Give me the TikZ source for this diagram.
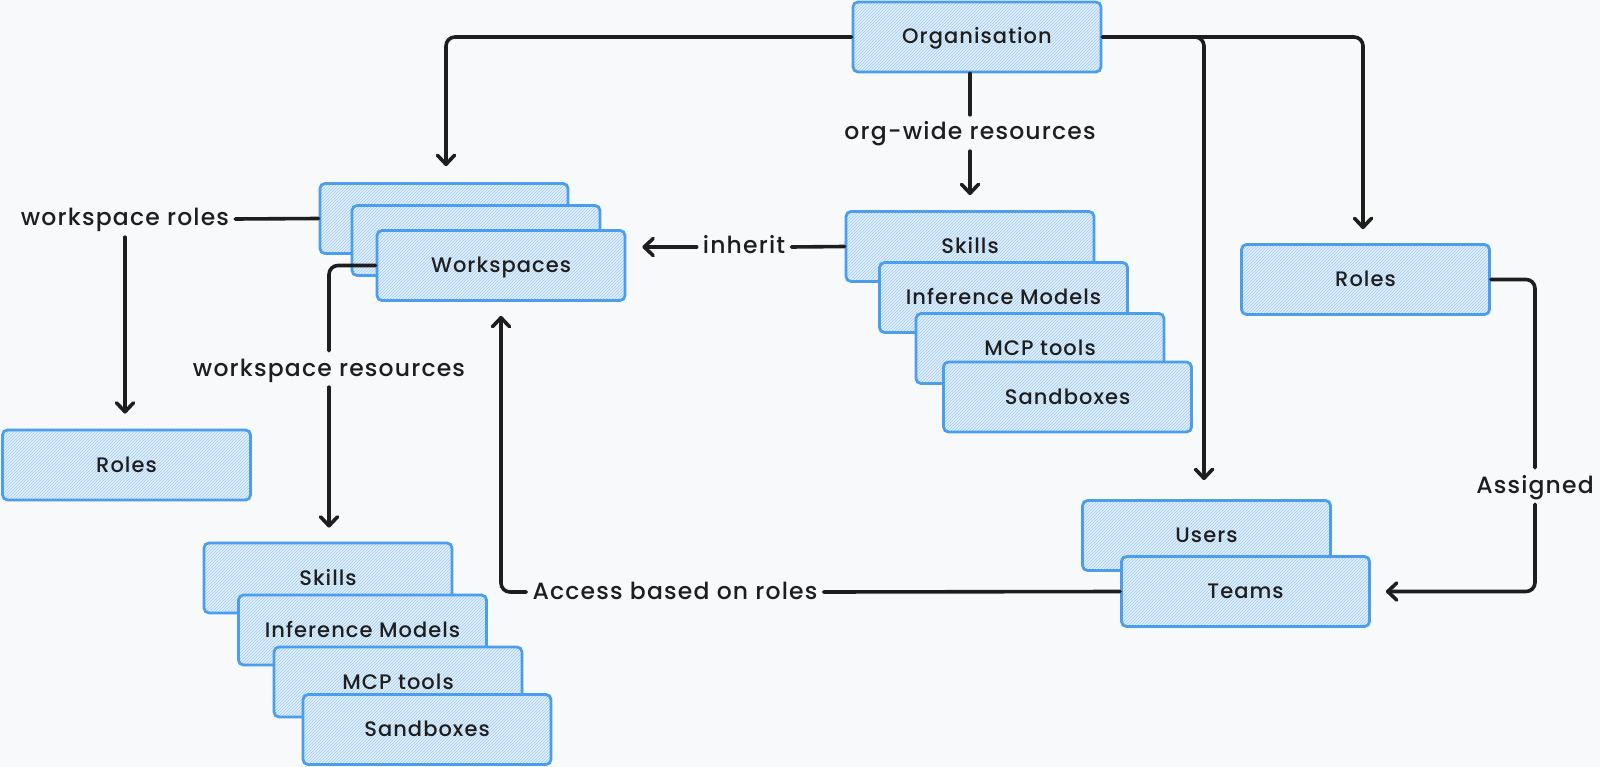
\documentclass[tikz,border=0pt]{standalone}
\usepackage{fontspec}
\setmainfont{Poppins}[UprightFont={* Medium}, LetterSpace=5]
\usetikzlibrary{arrows.meta,patterns,calc}
\definecolor{bg}{HTML}{F8F9FA}
\definecolor{boxblue}{HTML}{4A9EED}
\definecolor{fillblue}{HTML}{E4F0FB}
\definecolor{hatch}{HTML}{9CCBF3}
\definecolor{ink}{HTML}{1E1E1E}
\tikzset{
  box/.style={draw=boxblue, line width=2.8pt, rounded corners=5pt,
    preaction={fill=fillblue}, pattern=north east lines, pattern color=hatch,
    minimum width=248pt, minimum height=70pt, inner sep=0pt,
    text height=18pt, text depth=4pt,
    font=\fontsize{21}{24}\selectfont, text=ink},
  lbl/.style={font=\fontsize{23.5}{27}\selectfont, text=ink, inner sep=6pt,
    text height=19pt, text depth=5pt},
  conn/.style={draw=ink, line width=3.6pt, rounded corners=9pt, line cap=round},
  arr/.style={conn, -{Straight Barb[length=9pt,width=17pt,round]}},
}
\begin{document}
\begin{tikzpicture}[x=1pt,y=-1pt]
\fill[bg] (0,0) rectangle (1600,767);
\useasboundingbox (0,0) rectangle (1600,767);

% boxes
\node[box] (org) at (977,37) {Organisation};

\node[box] (ws1) at (444,218.5) {};
\node[box] (ws2) at (476,240.5) {};
\node[box] (ws) at (501,265.5) {Workspaces};

\node[box] (sk1) at (970,246.5) {Skills};
\node[box] (im1) at (1003.5,297.5) {Inference Models};
\node[box] (mcp1) at (1040,348.5) {MCP tools};
\node[box] (sb1) at (1067.5,397) {Sandboxes};

\node[box] (rolesR) at (1365.5,279.5) {Roles};
\node[box] (rolesL) at (126.5,465) {Roles};

\node[box] (users) at (1206.5,535.5) {Users};
\node[box] (teams) at (1245.5,591.5) {Teams};

\node[box] (sk2) at (328,578) {Skills};
\node[box] (im2) at (362.5,630) {Inference Models};
\node[box] (mcp2) at (398,682) {MCP tools};
\node[box] (sb2) at (427,729.5) {Sandboxes};

% labels
\node[lbl] (orgwide) at (970,133) {org-wide resources};
\node[lbl] (inherit) at (744,247) {inherit};
\node[lbl] (wsroles) at (125,219) {workspace roles};
\node[lbl] (wsres) at (329,369) {workspace resources};
\node[lbl] (assigned) at (1535,486) {Assigned};
\node[lbl] (access) at (675,592) {Access based on roles};

% connectors
\draw[arr, shorten >=16pt] (org.west) -| ([xshift=2pt]ws1.north);
\draw[conn] (orgwide.north |- org.south) -- (orgwide.north);
\draw[arr, shorten >=15pt] (orgwide.south) -- (sk1.north);
\draw[arr, shorten >=19pt] (org.east) -| ([xshift=-2.5pt]users.north);
\draw[arr, shorten >=14pt] (org.east) -| ([xshift=-2.5pt]rolesR.north);

\draw[conn] (sk1.west) -- (inherit.east);
\draw[arr, shorten >=16pt] (inherit.west) -- (ws.east |- inherit);

\draw[conn] (ws1.west) -- (wsroles.east);
\draw[arr, shorten >=15pt] (wsroles.south) -- (rolesL.north -| wsroles);

\draw[conn] (ws.west) -| (wsres.north);
\draw[arr, shorten >=14pt] (wsres.south) -- (sk2.north -| wsres);

\draw[conn] (rolesR.east) -| (assigned.north);
\draw[arr, shorten >=15pt] (assigned.south) |- (teams.east);

\draw[conn] (teams.west) -- (access.east);
\draw[arr, shorten >=14pt] (access.west) -| (ws.south);
\end{tikzpicture}
\end{document}
